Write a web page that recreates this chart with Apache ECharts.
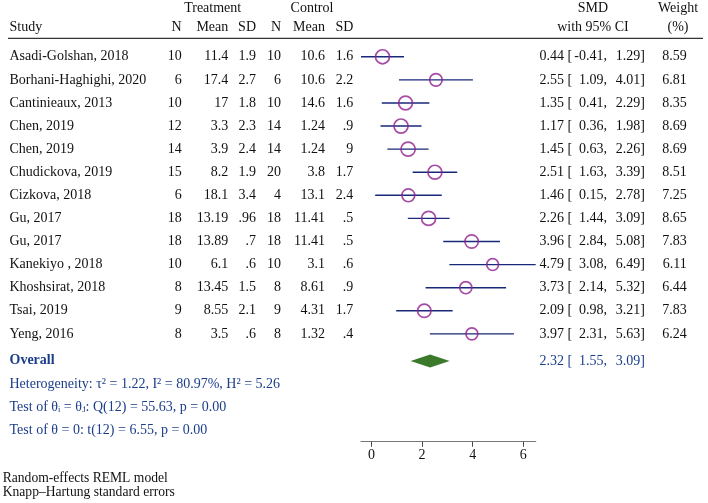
<!DOCTYPE html>
<html>
<head>
<meta charset="utf-8">
<script src="https://cdn.jsdelivr.net/npm/echarts@6/dist/echarts.min.js"></script>
<style>html,body{margin:0;padding:0;background:#fff}#c{width:708px;height:503px}</style>
</head>
<body>
<div id="c"></div>
<script>
// ---------------- data ----------------
const studies = ["Asadi-Golshan, 2018","Borhani-Haghighi, 2020","Cantinieaux, 2013","Chen, 2019","Chen, 2019","Chudickova, 2019","Cizkova, 2018","Gu, 2017","Gu, 2017","Kanekiyo , 2018","Khoshsirat, 2018","Tsai, 2019","Yeng, 2016"];
const tN    = ["10","6","10","12","14","15","6","18","18","10","8","9","8"];
const tMean = ["11.4","17.4","17","3.3","3.9","8.2","18.1","13.19","13.89","6.1","13.45","8.55","3.5"];
const tSD   = ["1.9","2.7","1.8","2.3","2.4","1.9","3.4",".96",".7",".6","1.5","2.1",".6"];
const cN    = ["10","6","10","14","14","20","4","18","18","10","8","9","8"];
const cMean = ["10.6","10.6","14.6","1.24","1.24","3.8","13.1","11.41","11.41","3.1","8.61","4.31","1.32"];
const cSD   = ["1.6","2.2","1.6",".9","9","1.7","2.4",".5",".5",".6",".9","1.7",".4"];
const smd   = [0.44,2.55,1.35,1.17,1.45,2.51,1.46,2.26,3.96,4.79,3.73,2.09,3.97];
const ciLo  = [-0.41,1.09,0.41,0.36,0.63,1.63,0.15,1.44,2.84,3.08,2.14,0.98,2.31];
const ciHi  = [1.29,4.01,2.29,1.98,2.26,3.39,2.78,3.09,5.08,6.49,5.32,3.21,5.63];
const weight= [8.59,6.81,8.35,8.69,8.69,8.51,7.25,8.65,7.83,6.11,6.44,7.83,6.24];
const overall = {est: 2.32, lo: 1.55, hi: 3.09};
const tickValues = [0, 2, 4, 6];
const statLines = [
  "Heterogeneity: \u03c4\u00b2 = 1.22, I\u00b2 = 80.97%, H\u00b2 = 5.26",
  "Test of \u03b8\u1d62 = \u03b8\u2c7c: Q(12) = 55.63, p = 0.00",
  "Test of \u03b8 = 0: t(12) = 6.55, p = 0.00"
];
const notes = ["Random-effects REML model", "Knapp\u2013Hartung standard errors"];

// ---------------- styles ----------------
const FONT = '"Liberation Serif", "DejaVu Serif", serif';
const FS = 14;
const BLACK = '#111111';
const BLUE = '#1b3d8a';
const PURPLE = '#8f1f8f';
const NAVY = '#18297a';
const GREEN = '#3b7a2a';
const fmt = v => v.toFixed(2);
const overallRow = 13.17;
const statRows = [14.17, 15.19, 16.16];

const chart = echarts.init(document.getElementById('c'), null, {renderer: 'canvas'});

const rowIdx = studies.map((_, i) => i);

function txt(text, x, y, align, color, weight) {
  return {type: 'text', style: {text, x, y, align, verticalAlign: 'middle',
    font: (weight || 'normal') + ' ' + FS + 'px ' + FONT, fill: color || BLACK}};
}

const option = {
  animation: false,
  backgroundColor: '#fff',
  grid: {left: 361, right: 708 - 535.7, top: 38.3, bottom: 503 - 441.7, containLabel: false},
  xAxis: {
    type: 'value', min: -0.41, max: 6.49, position: 'bottom',
    axisLine: {show: true, onZero: false, lineStyle: {color: '#777', width: 1.2}},
    axisTick: {show: true, customValues: tickValues, length: 5, lineStyle: {color: '#444'}},
    axisLabel: {show: true, customValues: tickValues, color: BLACK, fontFamily: FONT, fontSize: FS, margin: 7},
    splitLine: {show: false}
  },
  yAxis: {
    type: 'value', min: -0.8, max: 16.67, inverse: true, show: false,
    splitLine: {show: false}
  },
  series: [
    { // CI lines
      type: 'custom', name: 'ci', z: 2,
      data: rowIdx.map(i => [ciLo[i], ciHi[i], i]),
      encode: {x: [0, 1], y: 2},
      renderItem: (params, api) => {
        const a = api.coord([api.value(0), api.value(2)]);
        const b = api.coord([api.value(1), api.value(2)]);
        return {type: 'line', shape: {x1: a[0], y1: a[1], x2: b[0], y2: b[1]},
          style: {stroke: NAVY, lineWidth: 1.4}};
      }
    },
    { // point estimates
      type: 'scatter', name: 'smd', z: 3,
      data: rowIdx.map(i => [smd[i], i, weight[i]]),
      symbol: 'circle',
      symbolSize: v => 4.78 * Math.sqrt(v[2]),
      itemStyle: {color: 'rgba(0,0,0,0)', borderColor: PURPLE, borderWidth: 1.7}
    },
    { // overall diamond
      type: 'custom', name: 'overall', z: 3,
      data: [[overall.lo, overall.est, overall.hi, overallRow]],
      encode: {x: [0, 1, 2], y: 3},
      renderItem: (params, api) => {
        const r = api.value(3);
        const l = api.coord([api.value(0), r]);
        const m = api.coord([api.value(1), r]);
        const h = api.coord([api.value(2), r]);
        const hh = 6.5;
        return {type: 'polygon', shape: {points: [[l[0], l[1]], [m[0], m[1] - hh], [h[0], h[1]], [m[0], m[1] + hh]]},
          style: {fill: GREEN}};
      }
    },
    { // table text
      type: 'custom', name: 'table', z: 4, clip: false,
      data: rowIdx.map(i => [0, i]),
      renderItem: (params, api) => {
        const i = params.dataIndex;
        const y = api.coord([0, api.value(1)])[1];
        return {type: 'group', children: [
          txt(studies[i], 9.5, y, 'left'),
          txt(tN[i], 181.7, y, 'right'),
          txt(tMean[i], 228.3, y, 'right'),
          txt(tSD[i], 256, y, 'right'),
          txt(cN[i], 281, y, 'right'),
          txt(cMean[i], 325, y, 'right'),
          txt(cSD[i], 353.3, y, 'right'),
          txt(fmt(smd[i]), 564, y, 'right'),
          txt('[', 567.5, y, 'left'),
          txt(fmt(ciLo[i]) + ',', 607, y, 'right'),
          txt(fmt(ciHi[i]) + ']', 645, y, 'right'),
          txt(weight[i].toFixed(2), 686.7, y, 'right')
        ]};
      }
    },
    { // overall + stats text
      type: 'custom', name: 'overallText', z: 4, clip: false,
      data: [[0, overallRow]],
      renderItem: (params, api) => {
        const y = api.coord([0, api.value(1)])[1];
        const ch = [
          txt('Overall', 9.5, y, 'left', BLUE, 'bold'),
          txt(fmt(overall.est), 564, y, 'right', BLUE),
          txt('[', 567.5, y, 'left', BLUE),
          txt(fmt(overall.lo) + ',', 607, y, 'right', BLUE),
          txt(fmt(overall.hi) + ']', 645, y, 'right', BLUE)
        ];
        statLines.forEach((s, k) => {
          const yy = api.coord([0, statRows[k]])[1];
          ch.push(txt(s, 9.5, yy, 'left', BLUE));
        });
        return {type: 'group', children: ch};
      }
    }
  ],
  graphic: [
    {type: 'line', shape: {x1: 8, y1: 38.3, x2: 703, y2: 38.3}, style: {stroke: '#333', lineWidth: 1.3}},
    {type: 'text', x: 212.7, y: 8.5, style: {text: 'Treatment', align: 'center', verticalAlign: 'middle', font: FS + 'px ' + FONT, fill: BLACK}},
    {type: 'text', x: 312, y: 8.5, style: {text: 'Control', align: 'center', verticalAlign: 'middle', font: FS + 'px ' + FONT, fill: BLACK}},
    {type: 'text', x: 9.5, y: 27, style: {text: 'Study', align: 'left', verticalAlign: 'middle', font: FS + 'px ' + FONT, fill: BLACK}},
    {type: 'text', x: 181.7, y: 27, style: {text: 'N', align: 'right', verticalAlign: 'middle', font: FS + 'px ' + FONT, fill: BLACK}},
    {type: 'text', x: 228.3, y: 27, style: {text: 'Mean', align: 'right', verticalAlign: 'middle', font: FS + 'px ' + FONT, fill: BLACK}},
    {type: 'text', x: 256, y: 27, style: {text: 'SD', align: 'right', verticalAlign: 'middle', font: FS + 'px ' + FONT, fill: BLACK}},
    {type: 'text', x: 281, y: 27, style: {text: 'N', align: 'right', verticalAlign: 'middle', font: FS + 'px ' + FONT, fill: BLACK}},
    {type: 'text', x: 325, y: 27, style: {text: 'Mean', align: 'right', verticalAlign: 'middle', font: FS + 'px ' + FONT, fill: BLACK}},
    {type: 'text', x: 353.3, y: 27, style: {text: 'SD', align: 'right', verticalAlign: 'middle', font: FS + 'px ' + FONT, fill: BLACK}},
    {type: 'text', x: 593, y: 8.5, style: {text: 'SMD', align: 'center', verticalAlign: 'middle', font: FS + 'px ' + FONT, fill: BLACK}},
    {type: 'text', x: 593, y: 27, style: {text: 'with 95% CI', align: 'center', verticalAlign: 'middle', font: FS + 'px ' + FONT, fill: BLACK}},
    {type: 'text', x: 678, y: 8.5, style: {text: 'Weight', align: 'center', verticalAlign: 'middle', font: FS + 'px ' + FONT, fill: BLACK}},
    {type: 'text', x: 678, y: 27, style: {text: '(%)', align: 'center', verticalAlign: 'middle', font: FS + 'px ' + FONT, fill: BLACK}},
    {type: 'text', x: 2.7, y: 478, style: {text: notes[0], align: 'left', verticalAlign: 'middle', font: '13.6px ' + FONT, fill: BLACK}},
    {type: 'text', x: 2.7, y: 492.7, style: {text: notes[1], align: 'left', verticalAlign: 'middle', font: '13.6px ' + FONT, fill: BLACK}}
  ]
};
chart.setOption(option);
</script>
</body>
</html>
